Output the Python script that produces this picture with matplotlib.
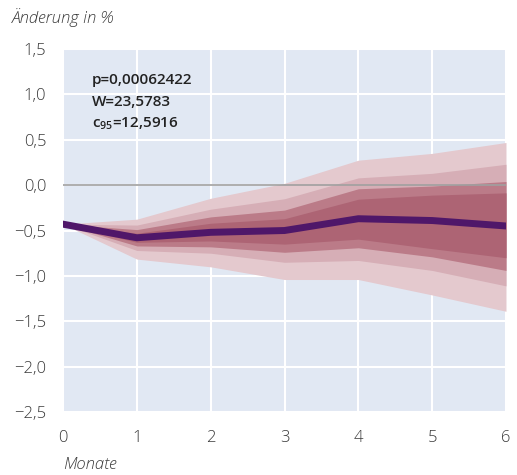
import matplotlib.pyplot as plt
from matplotlib.ticker import FuncFormatter

months = [0, 1, 2, 3, 4, 5, 6]
median = [-0.43, -0.58, -0.52, -0.50, -0.37, -0.39, -0.45]

# fan bands, outer to inner: (lower, upper)
outer_lo = [-0.43, -0.815, -0.90, -1.04, -1.04, -1.21, -1.39]
outer_hi = [-0.43, -0.375, -0.145, 0.02, 0.275, 0.35, 0.47]
band2_lo = [-0.43, -0.72, -0.75, -0.85, -0.83, -0.94, -1.11]
band2_hi = [-0.43, -0.44, -0.265, -0.15, 0.08, 0.13, 0.23]
band3_lo = [-0.43, -0.67, -0.68, -0.74, -0.69, -0.79, -0.94]
band3_hi = [-0.43, -0.49, -0.35, -0.275, -0.04, -0.01, 0.04]
band4_lo = [-0.43, -0.63, -0.615, -0.65, -0.595, -0.70, -0.80]
band4_hi = [-0.43, -0.53, -0.42, -0.37, -0.155, -0.11, -0.085]

band_colors = ['#e4c9ce', '#d6aeb6', '#bb7b88', '#ad6474']
stats = ['p=0,00062422', 'W=23,5783', r'$\mathregular{c_{95}}$=12,5916']

plt.rcParams['font.family'] = ['Open Sans', 'DejaVu Sans']

fig = plt.figure(figsize=(5.17, 4.75), dpi=100)
ax = fig.add_axes([0.1219, 0.1326, 0.8568, 0.7642])
ax.set_facecolor('#e1e8f3')

bands = [(outer_lo, outer_hi), (band2_lo, band2_hi), (band3_lo, band3_hi), (band4_lo, band4_hi)]
for (lo, hi), c in zip(bands, band_colors):
    ax.fill_between(months, lo, hi, color=c, linewidth=0, zorder=2)

ax.axhline(0, color='#a0a0a0', linewidth=1.2, zorder=3)
ax.plot(months, median, color='#4f1769', linewidth=5, solid_joinstyle='miter', zorder=4)

ax.set_xlim(0, 6)
ax.set_ylim(-2.5, 1.5)
ax.set_xticks(months)
ax.set_yticks([-2.5, -2.0, -1.5, -1.0, -0.5, 0.0, 0.5, 1.0, 1.5])
ax.yaxis.set_major_formatter(FuncFormatter(lambda v, p: f'{v:.1f}'.replace('.', ',').replace('-', '\u2212')))
ax.grid(True, color='white', linewidth=1.5, zorder=1)
ax.set_axisbelow(True)
ax.tick_params(length=0, labelsize=12, colors='#3a3a3a')
ax.tick_params(axis='x', pad=13)
ax.tick_params(axis='y', pad=12)
for lbl in ax.get_xticklabels() + ax.get_yticklabels():
    lbl.set_fontweight('light')
for s in ax.spines.values():
    s.set_visible(False)

for i, t in enumerate(stats):
    ax.text(0.065, 0.9146 - i * 0.0606, t, transform=ax.transAxes, fontsize=11,
            fontweight='semibold', color='#222222', va='center', zorder=5)

fig.text(12 / 517, 1 - 18 / 475, 'Änderung in %', fontsize=12, style='italic',
         fontweight='light', color='#3a3a3a', va='center', ha='left')
fig.text(63 / 517, 1 - 465 / 475, 'Monate', fontsize=12, style='italic',
         fontweight='light', color='#3a3a3a', va='center', ha='left')

fig.savefig('out.png', dpi=100)
